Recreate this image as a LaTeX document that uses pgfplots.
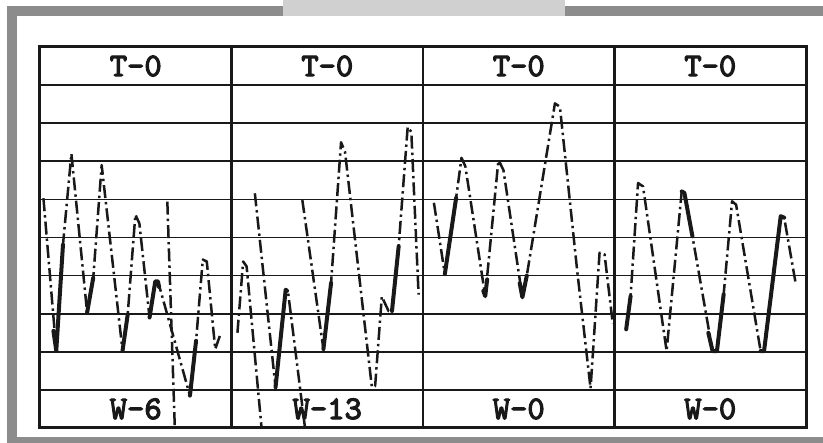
\documentclass[border=0pt]{standalone}
\usepackage{pgfplots}
\pgfplotsset{compat=1.18}
\usepackage{fontspec}
\newfontfamily\typ{lmmono10-regular}[Extension=.otf, FakeBold=3.5]
\definecolor{band}{RGB}{140,140,140}
\definecolor{tab}{RGB}{208,208,208}
\definecolor{ink}{RGB}{25,25,25}
\tikzset{
  dd/.style={ink, line width=1.25pt, line join=round, dash pattern=on 6.5pt off 2pt on 1.2pt off 2pt},
  tk/.style={ink, line width=2pt, solid, line join=round, line cap=round},
  lab/.style={ink, font=\typ\fontsize{16.5}{16.5}\selectfont}
}
\begin{document}
\begin{tikzpicture}
\useasboundingbox (0pt,0pt) rectangle (411.5pt,221.5pt);
\begin{scope}[x=0.5pt,y=0.5pt]
\fill[white] (0,0) rectangle (823,443);
\fill[band] (7,427) rectangle (823,437);
\fill[tab] (283,427) rectangle (565,443);
\fill[band] (7,0) rectangle (17,437);
\fill[band] (7,0) rectangle (823,6);
\end{scope}
\begin{axis}[at={(20pt,7.5pt)}, anchor=south west, scale only axis,
  width=383pt, height=190.5pt,
  xmin=0, xmax=4, ymin=0, ymax=10,
  xtick=\empty, ytick={1,...,9}, yticklabels={},
  ymajorgrids, major tick length=0pt,
  grid style={ink, line width=0.85pt},
  axis line style={ink, line width=1.5pt},
  clip=false]
% panel dividers
\draw[ink, line width=1.3pt] (axis cs:1,0) -- (axis cs:1,10);
\draw[ink, line width=1.3pt] (axis cs:2,0) -- (axis cs:2,10);
\draw[ink, line width=1.3pt] (axis cs:3,0) -- (axis cs:3,10);
% panel 1
\addplot[dd] coordinates {(0.018,6.03) (0.085,2.03) (0.12,4.81) (0.164,7.2) (0.246,3.03) (0.278,3.94) (0.322,6.9) (0.431,2.03) (0.458,2.98) (0.498,5.6) (0.519,5.37) (0.572,2.9) (0.602,3.85) (0.616,3.85) (0.783,0.85) (0.815,2.29) (0.85,4.42) (0.871,4.37) (0.915,2.07) (0.942,2.46)};
\addplot[dd] coordinates {(0.665,5.94) (0.704,0.0)};
\addplot[tk] coordinates {(0.07,2.55) (0.085,2.03) (0.12,4.81)};
\addplot[tk] coordinates {(0.246,3.03) (0.278,3.94)};
\addplot[tk] coordinates {(0.431,2.03) (0.458,2.98)};
\addplot[tk] coordinates {(0.572,2.9) (0.602,3.85) (0.616,3.85) (0.622,3.7)};
\addplot[tk] coordinates {(0.783,0.85) (0.815,2.29)};
% panel 2
\addplot[dd] coordinates {(1.031,2.50) (1.061,4.37) (1.079,4.24) (1.157,0.0)};
\addplot[dd] coordinates {(1.122,6.16) (1.230,1.07) (1.283,3.63) (1.297,3.50) (1.384,0.0)};
\addplot[dd] coordinates {(1.370,5.98) (1.480,2.07) (1.520,3.81) (1.572,7.5) (1.593,7.24) (1.733,1.07) (1.750,1.1) (1.785,3.45) (1.82,3.07) (1.838,3.07) (1.873,4.77) (1.920,7.9) (1.939,7.77) (1.977,3.5)};
\addplot[tk] coordinates {(1.230,1.07) (1.283,3.63) (1.29,3.6)};
\addplot[tk] coordinates {(1.480,2.07) (1.520,3.81)};
\addplot[tk] coordinates {(1.838,3.07) (1.873,4.77)};
% panel 3
\addplot[dd] coordinates {(2.057,5.91) (2.114,4.04) (2.173,6.04) (2.201,7.09) (2.221,6.87) (2.325,3.46) (2.394,7.04) (2.420,6.77) (2.519,3.43) (2.542,4.0) (2.689,8.52) (2.715,8.43) (2.806,4.09) (2.875,1.04) (2.922,4.6) (2.948,4.56) (2.991,2.74)};
\addplot[tk] coordinates {(2.114,4.04) (2.173,6.04)};
\addplot[tk] coordinates {(2.315,3.6) (2.325,3.46) (2.335,3.9)};
\addplot[tk] coordinates {(2.505,3.8) (2.519,3.43) (2.542,4.0)};
% panel 4
\addplot[dd] coordinates {(3.061,2.59) (3.084,3.46) (3.123,6.43) (3.149,6.34) (3.272,2.02) (3.351,6.21) (3.365,6.17) (3.407,5.03) (3.512,2.02) (3.535,2.02) (3.570,3.51) (3.614,5.95) (3.635,5.86) (3.763,2.02) (3.781,2.02) (3.868,5.56) (3.886,5.52) (3.947,3.77)};
\addplot[tk] coordinates {(3.061,2.59) (3.084,3.46)};
\addplot[tk] coordinates {(3.351,6.21) (3.365,6.17) (3.407,5.03)};
\addplot[tk] coordinates {(3.49,2.5) (3.512,2.02) (3.535,2.02) (3.570,3.51)};
\addplot[tk] coordinates {(3.763,2.02) (3.781,2.02) (3.868,5.56) (3.886,5.52)};
% labels
\node[lab] at (axis cs:0.5,9.5) {T-0};
\node[lab] at (axis cs:1.5,9.5) {T-0};
\node[lab] at (axis cs:2.5,9.5) {T-0};
\node[lab] at (axis cs:3.5,9.5) {T-0};
\node[lab] at (axis cs:0.5,0.5) {W-6};
\node[lab] at (axis cs:1.5,0.5) {W-13};
\node[lab] at (axis cs:2.5,0.5) {W-0};
\node[lab] at (axis cs:3.5,0.5) {W-0};
\end{axis}
\end{tikzpicture}
\end{document}
